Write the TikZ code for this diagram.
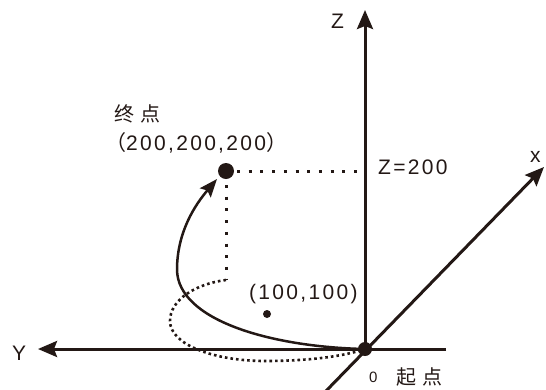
\documentclass[tikz,border=0pt]{standalone}
\usepackage{fontspec}
\setmainfont{Liberation Sans}
\newfontfamily\cjk{Noto Sans CJK SC}
\usetikzlibrary{arrows.meta}
\definecolor{ink}{RGB}{35,24,21}
\begin{document}
\begin{tikzpicture}[x=1pt,y=-1pt,
  axisline/.style={draw=ink,line width=3pt,-{Stealth[length=19pt,width=16pt,inset=3pt]}},
  pathline/.style={draw=ink,line width=2.5pt,-{Stealth[length=18pt,width=14pt,inset=3pt]}},
  dotline/.style={draw=ink,line width=3pt,dash pattern=on 3pt off 8.7pt},
  dotcurve/.style={draw=ink,line width=2.6pt,dash pattern=on 2.6pt off 3pt},
  bigdot/.style={circle,fill=ink,inner sep=0pt,minimum size=#1},
  lbl/.style={inner sep=0pt,anchor=base west,text=ink,font=\fontsize{21}{24}\selectfont\addfontfeature{LetterSpace=11}},
  cjklbl/.style={inner sep=0pt,anchor=base west,text=ink,font=\fontsize{20}{24}\selectfont\cjk}]
\useasboundingbox (0,0) rectangle (546,389);
% key positions
\coordinate (O) at (365,349);
\coordinate (Ztip) at (365,10);
\coordinate (Yend) at (446,349);
\coordinate (Ytip) at (38,349);
\coordinate (Xs) at (326,391);
\coordinate (Xtip) at (544,167);
\coordinate (Epos) at (226,171);
\coordinate (Zm) at (358,171);
\coordinate (C) at (226,280);
% axes
\draw[axisline] (O) -- (Ztip);
\draw[axisline] (Yend) -- (Ytip);
\draw[axisline] (Xs) -- (Xtip);
% dotted guides
\draw[dotline,shorten <=11pt] (Epos) -- (Zm);
\draw[dotline,shorten <=14pt] (Epos) -- (C);
\draw[dotcurve] (C) .. controls (195,284) and (170,300) .. (170,321)
  .. controls (170,345) and (215,361) .. (265,361)
  .. controls (310,361) and (345,356) .. (O);
% path curve
\draw[pathline] (O) .. controls (270,347) and (178,320) .. (177,270)
  .. controls (177,232) and (195,205) .. (217,179);
% points
\node[bigdot=14pt] (Od) at (O) {};
\node[bigdot=16pt] (E) at (Epos) {};
\node[bigdot=8pt] (P) at (267,314) {};
% labels
\node[lbl] (lz) at (331,28) {Z};
\node[lbl] (lx) at (530,162) {x};
\node[lbl] (ly) at (12,360) {Y};
\node[lbl] (lz200) at (378,174) {Z=200};
\node[lbl] (lp) at (249,299.5) {(100,100)};
\node[cjklbl] (lend) at (114,121) {终\hspace{6pt}点};
\node[lbl] (lendc) at (105,150) {{\cjk （}200,200,200{\cjk ）}};
\node[inner sep=0pt,anchor=base west,text=ink,font=\fontsize{15}{17}\selectfont] (l0) at (369,382) {0};
\node[cjklbl] (lstart) at (396,384) {起\hspace{6pt}点};
\end{tikzpicture}
\end{document}
